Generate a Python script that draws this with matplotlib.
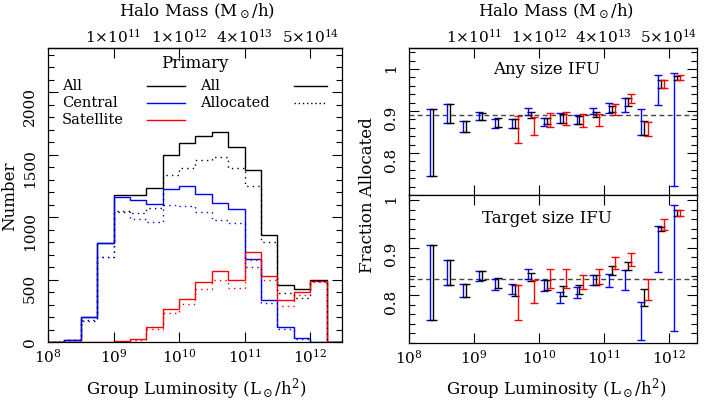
import numpy as np
import matplotlib
matplotlib.use("Agg")
import matplotlib.pyplot as plt
from matplotlib.ticker import FixedLocator, NullLocator, MultipleLocator

plt.rcParams['font.family'] = ['DejaVu Serif']
plt.rcParams['mathtext.fontset'] = 'dejavuserif'
plt.rcParams['font.size'] = 11

# bin edges of group luminosity, log10(L / (Lsun/h^2))
log_edges = [8.0, 8.25, 8.5, 8.75, 9.0, 9.25, 9.5, 9.75, 10.0, 10.25,
             10.5, 10.75, 11.0, 11.25, 11.5, 11.75, 12.0, 12.25, 12.5]

# counts per bin (primary galaxies)
n_all = [5, 19, 200, 794, 1176, 1176, 1235, 1496, 1592, 1653,
         1680, 1560, 1378, 861, 457, 428, 495, 0]
n_cen = [3, 19, 200, 794, 1163, 1142, 1107, 1227, 1250, 1186,
         1117, 1064, 666, 340, 126, 37, 5, 0]
n_sat = [0, 0, 0, 2, 8, 24, 126, 265, 348, 481,
         572, 500, 719, 527, 340, 401, 487, 0]
n_all_alloc = [3, 17, 180, 682, 1048, 1035, 1075, 1336, 1392, 1458,
               1480, 1392, 1250, 800, 393, 353, 487, 0]
n_cen_alloc = [3, 15, 172, 682, 1040, 985, 965, 1102, 1093, 1045,
               981, 957, 602, 313, 104, 29, 5, 0]
n_sat_alloc = [0, 0, 0, 1, 5, 18, 107, 233, 305, 428,
               500, 433, 660, 500, 294, 380, 479, 0]

# fraction allocated, bin centres 8.375 ... 12.125
log_centres = [8.375, 8.625, 8.875, 9.125, 9.375, 9.625, 9.875, 10.125,
               10.375, 10.625, 10.875, 11.125, 11.375, 11.625, 11.875, 12.125]
log_centres_sat = log_centres[5:]

# any size IFU
any_cen_lo = [0.745, 0.872, 0.850, 0.878, 0.8585, 0.860, 0.890, 0.864,
              0.8705, 0.870, 0.892, 0.896, 0.898, 0.8425, 0.9145, 0.7225]
any_cen_hi = [0.905, 0.917, 0.876, 0.897, 0.880, 0.880, 0.906, 0.8825,
              0.8945, 0.890, 0.908, 0.9185, 0.930, 0.904, 0.985, 0.990]
any_all_lo = [0.745, 0.872, 0.850, 0.879, 0.862, 0.860, 0.8825, 0.869,
              0.8705, 0.870, 0.885, 0.897, 0.913, 0.8425, 0.954, 0.973]
any_all_hi = [0.905, 0.917, 0.876, 0.896, 0.884, 0.880, 0.898, 0.8825,
              0.892, 0.889, 0.898, 0.913, 0.932, 0.876, 0.974, 0.984]
any_sat_lo = [0.824, 0.844, 0.861, 0.866, 0.861, 0.864, 0.890, 0.9185,
              0.840, 0.954, 0.973]
any_sat_hi = [0.889, 0.886, 0.8945, 0.897, 0.894, 0.894, 0.916, 0.940,
              0.874, 0.974, 0.986]
any_mean = 0.89

# target size IFU
tgt_cen_lo = [0.7476, 0.821, 0.7965, 0.830, 0.8105, 0.802, 0.8336, 0.8084,
              0.7847, 0.794, 0.821, 0.8174, 0.812, 0.707, 0.849, 0.725]
tgt_cen_hi = [0.9048, 0.8734, 0.8245, 0.851, 0.8336, 0.8245, 0.8545, 0.8314,
              0.807, 0.8174, 0.842, 0.8455, 0.8524, 0.786, 0.945, 0.9887]
tgt_all_lo = [0.7476, 0.821, 0.7965, 0.832, 0.816, 0.7985, 0.830, 0.812,
              0.798, 0.8035, 0.8224, 0.842, 0.8524, 0.7776, 0.934, 0.966]
tgt_all_hi = [0.9048, 0.8734, 0.8245, 0.852, 0.837, 0.821, 0.8476, 0.833,
              0.819, 0.8224, 0.842, 0.861, 0.870, 0.8126, 0.943, 0.980]
tgt_sat_lo = [0.7476, 0.7847, 0.8153, 0.816, 0.8126, 0.8245, 0.8545, 0.861,
              0.791, 0.9377, 0.966]
tgt_sat_hi = [0.821, 0.833, 0.856, 0.8545, 0.842, 0.8545, 0.880, 0.8887,
              0.8336, 0.9593, 0.980]
tgt_mean = 0.835

# top axis: halo mass at luminosity decades
halo_ticks = [1e9, 1e10, 1e11, 1e12]
halo_labels = [r'1$\times$10$^{11}$', r'1$\times$10$^{12}$',
               r'4$\times$10$^{13}$', r'5$\times$10$^{14}$']

BLUE = '#0000ff'
RED = '#ff0000'
DOT = (0, (1, 3))
BIG = 12  # axis titles and panel text
LEG = 10.5

edges = 10 ** np.array(log_edges)

W, H = 708, 404
fig = plt.figure(figsize=(W / 100, H / 100), dpi=100)
ax_h = fig.add_axes([48 / W, 1 - 342.3 / H, 294.3 / W, 294.3 / H])
ax_t = fig.add_axes([409 / W, 1 - 195 / H, 288.3 / W, 147 / H])
ax_b = fig.add_axes([409 / W, 1 - 343 / H, 288.3 / W, 148 / H])


def style_x(ax, xmax, top_labels=True, bottom_labels=True):
    ax.set_xscale('log')
    ax.set_xlim(1e8, xmax)
    ax.xaxis.set_major_locator(FixedLocator([1e8, 1e9, 1e10, 1e11, 1e12]))
    ax.xaxis.set_minor_locator(NullLocator())
    ax.tick_params(axis='x', which='both', direction='in', length=7, width=0.8,
                   top=not top_labels, bottom=True, labelbottom=bottom_labels, pad=4)
    if top_labels:
        sec = ax.secondary_xaxis('top')
        sec.set_xticks(halo_ticks, labels=halo_labels)
        sec.xaxis.set_minor_locator(NullLocator())
        sec.tick_params(direction='in', length=7, width=0.8, pad=2)
        sec.spines['top'].set_linewidth(0.9)
    for s in ax.spines.values():
        s.set_linewidth(0.9)


def style_y(ax):
    ax.tick_params(axis='y', which='both', direction='in', left=True, right=True,
                   labelrotation=90, pad=8, width=0.8)
    ax.tick_params(axis='y', which='major', length=7)
    ax.tick_params(axis='y', which='minor', length=4)


# ---- histogram
for vals, col, ls in [(n_all, 'k', '-'), (n_cen, BLUE, '-'), (n_sat, RED, '-'),
                      (n_all_alloc, 'k', DOT), (n_cen_alloc, BLUE, DOT),
                      (n_sat_alloc, RED, DOT)]:
    ax_h.stairs(vals, edges, color=col, linestyle=ls, lw=1.0)

style_x(ax_h, 10 ** 12.49)
ax_h.set_ylim(0, 2355)
ax_h.yaxis.set_major_locator(MultipleLocator(500))
ax_h.yaxis.set_minor_locator(MultipleLocator(100))
style_y(ax_h)

# legend drawn by hand (labels left, sample lines right)
tr = ax_h.transAxes
ax_h.text(0.4995, 0.946, 'Primary', transform=tr, ha='center', va='center', fontsize=BIG)
for lab, col, yy in [('All', 'k', 0.871), ('Central', BLUE, 0.813), ('Satellite', RED, 0.755)]:
    ax_h.text(0.047, yy, lab, transform=tr, ha='left', va='center', fontsize=LEG)
    ax_h.plot([0.336, 0.466], [yy, yy], transform=tr, color=col, lw=1.0)
for lab, ls, yy in [('All', '-', 0.871), ('Allocated', (0, (1, 2)), 0.813)]:
    ax_h.text(0.5165, yy, lab, transform=tr, ha='left', va='center', fontsize=LEG)
    ax_h.plot([0.836, 0.948], [yy, yy], transform=tr, color='k', lw=1.0, ls=ls)

# ---- fraction allocated panels
x_c = 10 ** np.array(log_centres)
x_s = 10 ** np.array(log_centres_sat)


def bars(ax, x, lo, hi, col):
    lo = np.array(lo)
    hi = np.array(hi)
    mid = (lo + hi) / 2
    ax.errorbar(x, mid, yerr=[mid - lo, hi - mid], fmt='none', ecolor=col,
                elinewidth=1.0, capsize=3, capthick=1.0)


for ax, cl, ch, al, ah, sl, sh, mean, txt, ty, ylim in [
        (ax_t, any_cen_lo, any_cen_hi, any_all_lo, any_all_hi, any_sat_lo, any_sat_hi,
         any_mean, 'Any size IFU', 0.857, (0.70, 1.05)),
        (ax_b, tgt_cen_lo, tgt_cen_hi, tgt_all_lo, tgt_all_hi, tgt_sat_lo, tgt_sat_hi,
         tgt_mean, 'Target size IFU', 0.838, (0.70, 1.0105))]:
    ax.axhline(mean, color='#444444', lw=1.0, ls=(0, (3.5, 2.5)))
    bars(ax, x_c * 10 ** -0.045, cl, ch, BLUE)
    bars(ax, x_c, al, ah, 'k')
    bars(ax, x_s * 10 ** 0.05, sl, sh, RED)
    ax.set_ylim(*ylim)
    ax.yaxis.set_major_locator(FixedLocator([0.8, 0.9, 1.0]))
    ax.yaxis.set_minor_locator(MultipleLocator(0.02))
    ax.set_yticklabels(['0.8', '0.9', '1'])
    style_y(ax)
    ax.text(0.479, ty, txt, transform=ax.transAxes, ha='center', va='center', fontsize=BIG)

style_x(ax_t, 10 ** 12.44, top_labels=True, bottom_labels=False)
style_x(ax_b, 10 ** 12.44, top_labels=False, bottom_labels=True)

# axis titles
xlab = r'Group Luminosity (L$_\odot$/h$^2$)'
toplab = r'Halo Mass (M$_\odot$/h)'
fig.text(196 / W, 1 - 389 / H, xlab, ha='center', va='center', fontsize=BIG)
fig.text(556 / W, 1 - 389 / H, xlab, ha='center', va='center', fontsize=BIG)
fig.text(197 / W, 1 - 11 / H, toplab, ha='center', va='center', fontsize=BIG)
fig.text(556 / W, 1 - 11 / H, toplab, ha='center', va='center', fontsize=BIG)
fig.text(10 / W, 1 - 196 / H, 'Number', rotation=90, ha='center', va='center', fontsize=BIG)
fig.text(368 / W, 1 - 195 / H, 'Fraction Allocated', rotation=90, ha='center', va='center',
         fontsize=BIG)

fig.savefig('out.png', dpi=100)
